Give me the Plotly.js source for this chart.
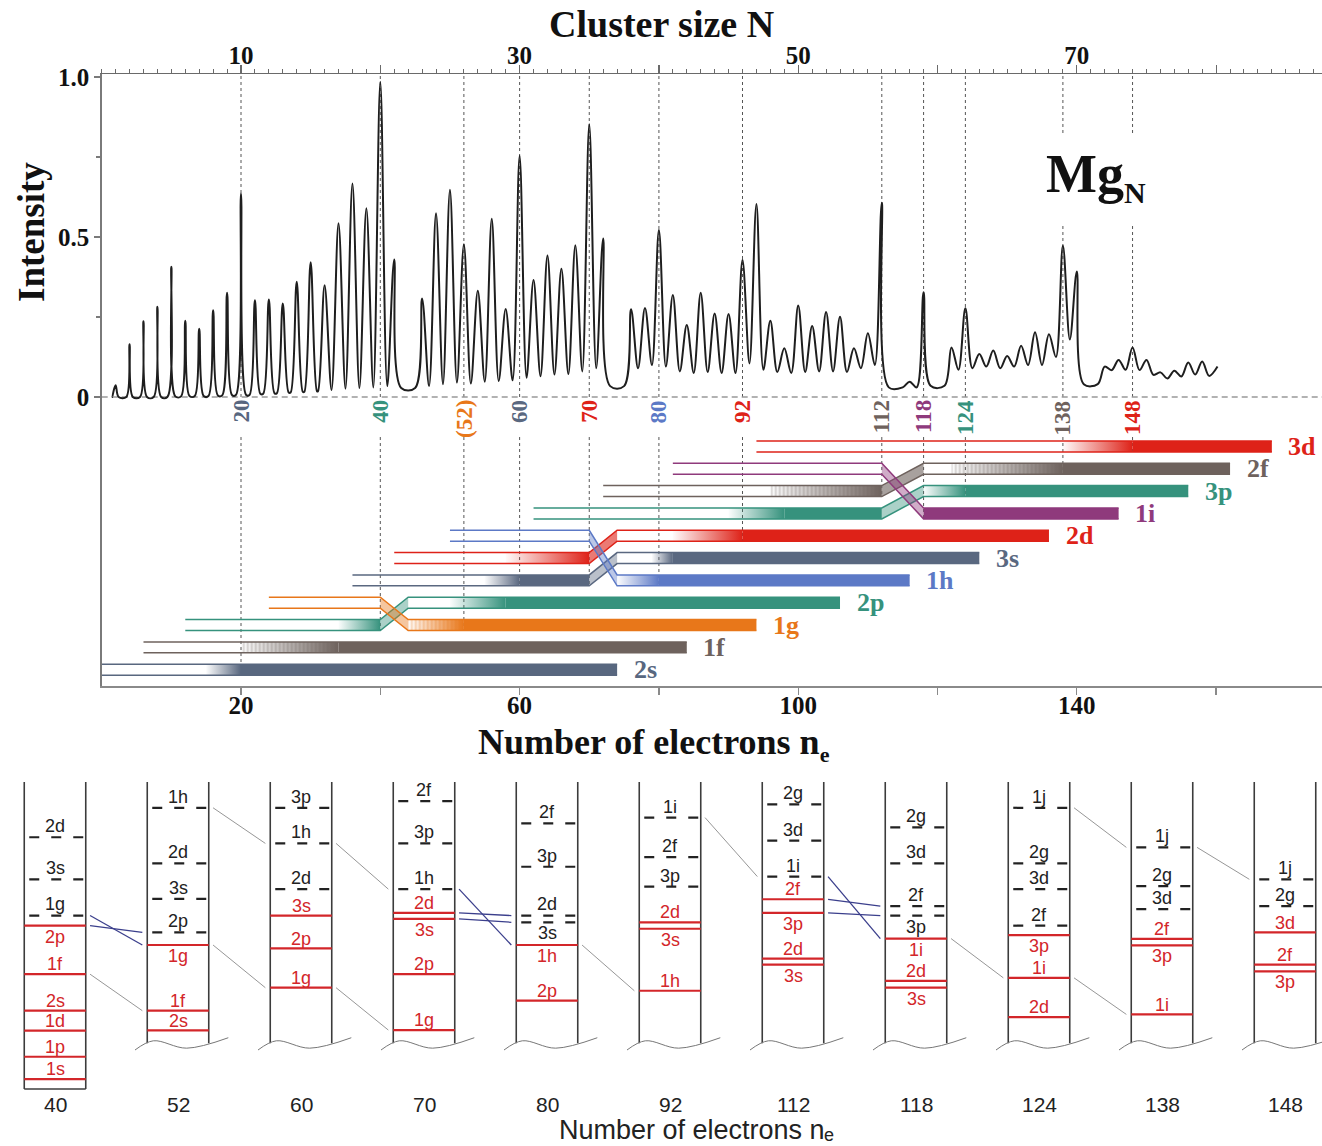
<!DOCTYPE html>
<html>
<head>
<meta charset="utf-8">
<title>Mg_N mass spectrum and electronic shell structure</title>
<script src="https://cdn.plot.ly/plotly-3.0.1.min.js"></script>
<style>
  html, body { margin: 0; padding: 0; background: #ffffff; }
  #chart { width: 1322px; height: 1146px; }
</style>
</head>
<body>
<div id="chart"></div>
<script>
// ---------------- Mass spectrum of Mg_N clusters ----------------
const clusterN = [1,2,3,4,5,6,7,8,9,10,11,12,13,14,15,16,17,18,19,20,21,
  23,24,25,26,27,28,29,30,31,32,33,34,35,36,
  38,39,40,41,42,43,44,45,46,47,48,49,50,51,52,53,54,55,56,
  58,59,61,62,63,64,65,66,67,68,69,70,72,73,74,75,76,77,78,79];
const peakIntensity = [0.037,0.165,0.237,0.282,0.407,0.238,0.213,0.271,0.326,0.636,
  0.302,0.305,0.292,0.360,0.421,0.349,0.543,0.667,0.590,0.985,0.430,
  0.308,0.574,0.648,0.477,0.332,0.557,0.275,0.754,0.366,0.442,0.401,0.474,0.852,0.495,
  0.274,0.278,0.522,0.319,0.225,0.326,0.261,0.259,0.428,0.603,0.238,0.152,0.286,0.222,0.266,0.251,0.152,0.199,0.607,
  0.048,0.327,0.155,0.277,0.134,0.145,0.128,0.160,0.202,0.196,0.473,0.392,
  0.095,0.116,0.155,0.116,0.077,0.082,0.108,0.111];
// level of the trough that follows each peak
const troughIntensity = [0,0,0,0,0.002,0.003,0.003,0.005,0.006,0.006,
  0.010,0.012,0.014,0.016,0.018,0.022,0.026,0.028,0.030,0.034,0.028,
  0.034,0.040,0.045,0.042,0.048,0.050,0.052,0.060,0.065,0.070,0.072,0.080,0.090,0.034,
  0.090,0.100,0.095,0.080,0.075,0.078,0.075,0.075,0.105,0.085,0.078,0.075,0.078,0.080,0.080,0.078,0.090,0.100,0.030,
  0.030,0.035,0.085,0.090,0.095,0.090,0.095,0.100,0.100,0.125,0.180,0.040,
  0.084,0.085,0.084,0.069,0.058,0.064,0.070,0.066];
const spectrumStart = [0.8, 0];
const spectrumEnd = [80.1, 0.095];

// ---------------- Shell closings (number of electrons) ----------------
const magicNumbers = [20, 40, 52, 60, 70, 80, 92, 112, 118, 124, 138, 148];
const magicLabels  = ['20','40','(52)','60','70','80','92','112','118','124','138','148'];
const magicShell   = ['2s','2p','1g','3s','2d','1h','2d','2f','1i','3p','2f','3d'];

// ---------------- Shell filling diagram ----------------
const shellNames   = ['2s','1f','2p','1g','3s','2d','1h','3p','2f','1i','3d'];
const shellPathNe  = [[0,74],[6,84],[12,40,44,106],[24,40,44,94],[36,70,74,126],[42,70,74,136],
                      [50,70,74,116],[62,112,118,156],[72,112,118,162],[82,112,118,146],[94,168]];
const shellPathRow = [[0,0],[1,1],[2,2,3,3],[3,3,2,2],[4,4,5,5],[5,5,6,6],
                      [6,6,4,4],[7,7,8,8],[8,8,9,9],[9,9,7,7],[10,10]];
const shellStages  = [
  [[15,20,'filling'],[20,74,'filled']],
  [[20,34,'filling'],[34,84,'filled']],
  [[34,40,'filling'],[40,44,'crossing'],[50,58,'filling'],[58,106,'filled']],
  [[40,44,'crossing'],[44,52,'filling'],[52,94,'filled']],
  [[55,60,'filling'],[60,70,'filled'],[70,74,'crossing'],[79,82,'filling'],[82,126,'filled']],
  [[58,70,'filling'],[70,74,'crossing'],[82,92,'filling'],[92,136,'filled']],
  [[70,74,'crossing'],[74,80,'filling'],[80,116,'filled']],
  [[90,98,'filling'],[98,112,'filled'],[112,118,'crossing'],[118,124,'filling'],[124,156,'filled']],
  [[96,112,'filling'],[112,118,'crossing'],[122,138,'filling'],[138,162,'filled']],
  [[112,118,'crossing'],[118,146,'filled']],
  [[138,148,'filling'],[148,168,'filled']]
];

// ---------------- Level schemes at the shell closings ----------------
const columnNe = [40, 52, 60, 70, 80, 92, 112, 118, 124, 138, 148];
const occupiedNames = [['1s','1p','1d','2s','1f','2p'],['2s','1f','1g'],['1g','2p','3s'],['1g','2p','3s','2d'],
  ['2p','1h'],['1h','3s','2d'],['3s','2d','3p','2f'],['3s','2d','1i'],['2d','1i','3p'],['1i','3p','2f'],['3p','2f','3d']];
const occupiedEnergy = [[3.2,10.5,19.0,25.5,37.4,53.2],[19.1,25.5,46.9],[33.0,45.8,56.5],[19.2,37.4,55.4,57.4],
  [28.8,46.9],[32.0,52.2,54.3],[40.5,42.5,57.4,61.8],[33.0,35.2,49.0],[23.4,36.2,50.1],[24.3,46.8,48.9],[38.3,40.5,51.0]];
const emptyNames = [['1g','3s','2d'],['2p','3s','2d','1h'],['2d','1h','3p'],['1h','3p','2f'],['3s','2d','3p','2f'],
  ['3p','2f','1i'],['1i','3d','2g'],['3p','2f','3d','2g'],['2f','3d','2g','1j'],['3d','2g','1j'],['2g','1j']];
const emptyEnergy = [[56.5,68.3,82.0],[51.0,61.9,73.5,91.6],[65.1,80.0,91.6],[65.1,80.0,93.8],[54.3,56.5,72.4,86.5],
  [65.9,75.5,88.4],[69.2,80.9,92.7],[56.5,59.6,73.5,85.2],[53.2,65.1,73.5,91.6],[58.6,66.1,78.7],[59.6,68.3]];
// a level followed from one scheme to the next
const trackedFrom  = [0,1,1,2,2,4,5,7,8,8,9];
const trackedLevel = ['1f','1h','1g','1h','1g','1h','1i','1i','1j','1i','1j'];
const crossingFrom  = [0,0,3,3,3,6,6,6];
const crossingLevel = ['1g','2p','1h','2d','3s','1i','2f','3p'];

// ---------------- Styles ----------------
const shellColor = {'2s':'#58677f','1f':'#6e625d','2p':'#36927d','1g':'#e8771a','3s':'#5a6880',
  '2d':'#de2218','1h':'#5c79c6','3p':'#36927d','2f':'#6e625d','1i':'#8f3a7c','3d':'#de2218'};
const hatchedShells = ['1f','1g','2f'];
const serif = 'Liberation Serif, Times New Roman, serif';
const sans = 'Liberation Sans, Arial, Helvetica, sans-serif';
const W = 1322, Hpx = 1146;
const P = py => 1 - py / Hpx;            // paper fraction for a pixel row
const HALF = 0.246;                      // half thickness of a shell ribbon (row units)
const LEVEL_RED = '#d3262a', LEVEL_DARK = '#222222';

function rgba(hex, a) {
  const n = parseInt(hex.slice(1), 16);
  return 'rgba(' + ((n >> 16) & 255) + ',' + ((n >> 8) & 255) + ',' + (n & 255) + ',' + a + ')';
}
function rowAt(ne, path, rws) {
  if (ne <= path[0]) return rws[0];
  for (let i = 1; i < path.length; i++) {
    if (ne <= path[i]) {
      const t = (ne - path[i - 1]) / (path[i] - path[i - 1]);
      return rws[i - 1] + t * (rws[i] - rws[i - 1]);
    }
  }
  return rws[rws.length - 1];
}
function band(a, b, path, rws) {
  const xs = [a];
  path.forEach(v => { if (v > a && v < b) xs.push(v); });
  xs.push(b);
  const top = xs.map(x => rowAt(x, path, rws) + HALF);
  const bot = xs.map(x => rowAt(x, path, rws) - HALF);
  const rx = xs.slice().reverse(), rb = bot.slice().reverse();
  return { x: xs.concat(rx, [xs[0]]), y: top.concat(rb, [top[0]]) };
}

const traces = [];
const annotations = [];

// ---- guide lines at the shell closings ----
const gapLo = 0.54, gapHi = 0.825;     // room for the Mg_N label
const topGX = [], topGY = [], lowGX = [], lowGY = [];
magicNumbers.forEach((m, i) => {
  if (m > 134 && m < 152) {
    topGX.push(m, m, null, m, m, null); topGY.push(0, gapLo, null, gapHi, 1.01, null);
  } else {
    topGX.push(m, m, null); topGY.push(0, 1.01, null);
  }
  const k = shellNames.indexOf(magicShell[i]);
  let r = rowAt(m, shellPathNe[k], shellPathRow[k]);
  if (m === 40) r = Math.min(r, 2);
  if (m === 70) r = Math.min(r, 4);
  lowGX.push(m, m, null); lowGY.push(10.42, r - HALF, null);
});
traces.push({ type:'scatter', mode:'lines', x: topGX, y: topGY, xaxis:'x', yaxis:'y',
  line:{ color:'#555', width:1, dash:'3px,3px' }, hoverinfo:'skip', showlegend:false });
traces.push({ type:'scatter', mode:'lines', x: lowGX, y: lowGY, xaxis:'x', yaxis:'y2',
  line:{ color:'#555', width:1, dash:'3px,3px' }, hoverinfo:'skip', showlegend:false });

// zero level of the spectrum
traces.push({ type:'scatter', mode:'lines', x:[0, 175.2], y:[0, 0], xaxis:'x', yaxis:'y',
  line:{ color:'#999', width:1.4, dash:'6px,4px' }, hoverinfo:'skip', showlegend:false });

// ---- spectrum ----
const halfWidth = n => Math.min(0.5, 0.2 + 0.017 * n);
const specX = [spectrumStart[0], clusterN[0] - halfWidth(clusterN[0])];
const specY = [spectrumStart[1], 0];
clusterN.forEach((n, i) => {
  specX.push(n); specY.push(peakIntensity[i]);
  const v = troughIntensity[i];
  const a = n + halfWidth(n);
  if (i === clusterN.length - 1) { specX.push(a); specY.push(v); return; }
  const next = clusterN[i + 1];
  const b = next - halfWidth(next);
  if (b - a > 0.05) { specX.push(a, b); specY.push(v, v); }
  else { specX.push((n + next) / 2); specY.push(v); }
});
specX.push(spectrumEnd[0]); specY.push(spectrumEnd[1]);
traces.push({ type:'scatter', mode:'lines', x: specX, y: specY, xaxis:'x2', yaxis:'y',
  line:{ color:'#1e1e1e', width:2, shape:'spline', smoothing:1 }, hoverinfo:'skip', showlegend:false });

// ---- shell ribbons ----
shellNames.forEach((name, k) => {
  const c = shellColor[name];
  const path = shellPathNe[k], rws = shellPathRow[k];
  shellStages[k].forEach(([a, b, stage]) => {
    const poly = band(a, b, path, rws);
    const t = { type:'scatter', mode:'lines', x: poly.x, y: poly.y, xaxis:'x', yaxis:'y2',
      fill:'toself', line:{ width:0, color:c }, hoverinfo:'skip', showlegend:false };
    if (stage === 'filled') t.fillcolor = c;
    else if (stage === 'crossing') t.fillcolor = rgba(c, name === '2d' || name === '2f' ? 0.6 : 0.42);
    else t.fillgradient = { type:'horizontal', start:a, stop:b,
      colorscale:[[0, rgba(c, 0.02)], [1, rgba(c, 1)]] };
    traces.push(t);
    if (stage === 'filling' && hatchedShells.includes(name)) {
      traces.push({ type:'scatter', mode:'lines', x: poly.x, y: poly.y, xaxis:'x', yaxis:'y2',
        fill:'toself', fillcolor:'rgba(0,0,0,0)', line:{ width:0, color:c },
        fillpattern:{ shape:'|', size:4, solidity:0.3, fgcolor: rgba(c, 0.35), bgcolor:'rgba(0,0,0,0)' },
        hoverinfo:'skip', showlegend:false });
    }
  });
  const ox = path.concat([null], path);
  const oy = rws.map(r => r + HALF).concat([null], rws.map(r => r - HALF));
  traces.push({ type:'scatter', mode:'lines', x: ox, y: oy, xaxis:'x', yaxis:'y2',
    line:{ color:c, width:1.5 }, hoverinfo:'skip', showlegend:false });
  const end = path[path.length - 1];
  annotations.push({ xref:'x', yref:'y2', x: end + 2.1, y: rws[rws.length - 1], xanchor:'left', yanchor:'middle',
    text:'<b>' + name + '</b>', showarrow:false, font:{ family: serif, size:26, color:c } });
});

// labels of the shell closings
magicNumbers.forEach((m, i) => {
  annotations.push({ xref:'x', yref:'paper', x: m, y: P(398), xanchor:'center', yanchor:'top', textangle:-90,
    text:'<b>' + magicLabels[i] + '</b>', showarrow:false,
    font:{ family: serif, size:23, color: shellColor[magicShell[i]] } });
});

// ---- level schemes ----
const CH = 0.25;                 // half width of a scheme column (column units)
const colX = [], colY = [];
const redX = [], redY = [], dashX = [], dashY = [];
const waveX = [], waveY = [];
const waveDx = [-43, -24.7, 8.7, 50.3].map(d => d / 123);
const waveE = [12.7, 15.7, 13.3, 16.7];
const energyOf = [];
columnNe.forEach((ne, k) => {
  const bottom = k === 0 ? 0 : 14.9;
  colX.push(k - CH, k - CH, null, k + CH, k + CH, null);
  colY.push(bottom, 100, null, bottom, 100, null);
  if (k === 0) { colX.push(k - CH, k + CH, null); colY.push(0, 0, null); }
  else {
    waveDx.forEach((d, j) => { waveX.push(k + d); waveY.push(waveE[j]); });
    waveX.push(null); waveY.push(null);
  }
  const lv = {};
  const all = [];
  occupiedNames[k].forEach((n, j) => { lv[n] = occupiedEnergy[k][j]; all.push({ n, e: occupiedEnergy[k][j], occ:true });
    redX.push(k - CH, k + CH, null); redY.push(occupiedEnergy[k][j], occupiedEnergy[k][j], null); });
  emptyNames[k].forEach((n, j) => { lv[n] = emptyEnergy[k][j]; all.push({ n, e: emptyEnergy[k][j], occ:false });
    dashX.push(k - CH + 5 / 123, k + CH - 2 / 123, null); dashY.push(emptyEnergy[k][j], emptyEnergy[k][j], null); });
  energyOf.push(lv);
  all.sort((p, q) => q.e - p.e);
  let prev = null;
  all.forEach(L => {
    const gap = prev ? prev.e - L.e : Infinity;
    let below;
    if (!L.occ) below = gap < 3.5;
    else below = gap < 5 || (prev && prev.below && gap < 10);
    L.below = below;
    const y = below ? L.e - 3.6 : L.e + (L.occ ? 3.2 : 3.6);
    annotations.push({ xref:'x3', yref:'y3', x: k, y: y, xanchor:'center', yanchor:'middle', showarrow:false,
      text: L.n, font:{ family: sans, size:18, color: L.occ ? LEVEL_RED : LEVEL_DARK } });
    prev = L;
  });
  annotations.push({ xref:'x3', yref:'y3', x: k, y: -5.0, xanchor:'center', yanchor:'middle', showarrow:false,
    text: String(ne), font:{ family: sans, size:21, color:'#222' } });
});
traces.push({ type:'scatter', mode:'lines', x: colX, y: colY, xaxis:'x3', yaxis:'y3',
  line:{ color:'#3c3c3c', width:1.6 }, hoverinfo:'skip', showlegend:false });
traces.push({ type:'scatter', mode:'lines', x: waveX, y: waveY, xaxis:'x3', yaxis:'y3',
  line:{ color:'#777', width:1, shape:'spline' }, hoverinfo:'skip', showlegend:false });

const gX = [], gY = [], bX = [], bY = [];
const link = (from, name, xs, ys) => {
  xs.push(from + 0.285, from + 1 - 0.29, null);
  ys.push(energyOf[from][name], energyOf[from + 1][name], null);
};
trackedFrom.forEach((f, i) => link(f, trackedLevel[i], gX, gY));
crossingFrom.forEach((f, i) => link(f, crossingLevel[i], bX, bY));
traces.push({ type:'scatter', mode:'lines', x: gX, y: gY, xaxis:'x3', yaxis:'y3',
  line:{ color:'#8a8a8a', width:0.9 }, hoverinfo:'skip', showlegend:false });
traces.push({ type:'scatter', mode:'lines', x: bX, y: bY, xaxis:'x3', yaxis:'y3',
  line:{ color:'#3b3f8c', width:1.3 }, hoverinfo:'skip', showlegend:false });
traces.push({ type:'scatter', mode:'lines', x: redX, y: redY, xaxis:'x3', yaxis:'y3',
  line:{ color: LEVEL_RED, width:2.2 }, hoverinfo:'skip', showlegend:false });
traces.push({ type:'scatter', mode:'lines', x: dashX, y: dashY, xaxis:'x3', yaxis:'y3',
  line:{ color: LEVEL_DARK, width:2.2, dash:'10px,12px' }, hoverinfo:'skip', showlegend:false });

// ---- titles ----
annotations.push({ xref:'paper', yref:'paper', x: 661 / W, y: P(24), xanchor:'center', yanchor:'middle', showarrow:false,
  text:'<b>Cluster size N</b>', font:{ family: serif, size:38, color:'#111' } });
annotations.push({ xref:'paper', yref:'paper', x: 31 / W, y: P(232), xanchor:'center', yanchor:'middle', showarrow:false,
  textangle:-90, text:'<b>Intensity</b>', font:{ family: serif, size:37, color:'#111' } });
annotations.push({ xref:'paper', yref:'paper', x: 654 / W, y: P(744), xanchor:'center', yanchor:'middle', showarrow:false,
  text:'<b>Number of electrons n<sub><span style="font-size:22px">e</span></sub></b>', font:{ family: serif, size:36, color:'#111' } });
annotations.push({ xref:'x2', yref:'y', x: 71.4, y: 0.69, xanchor:'center', yanchor:'middle', showarrow:false,
  text:'<b>Mg<sub><span style="font-size:30px">N</span></sub></b>', font:{ family: serif, size:54, color:'#111' } });
// bottom title: main text and its subscript placed side by side
annotations.push({ xref:'paper', yref:'paper', x: 826 / W, y: P(1146), xanchor:'right', yanchor:'bottom', showarrow:false,
  borderpad:0, text:'Number of electrons n', font:{ family: sans, size:27, color:'#222' } });
annotations.push({ xref:'paper', yref:'paper', x: 823 / W, y: P(1146), xanchor:'left', yanchor:'bottom', showarrow:false,
  borderpad:0, text:'e', font:{ family: sans, size:18, color:'#222' } });

// ---- layout ----
const xLeft = 101.7 / W;
const boldTicks = a => a.map(s => s === '' ? ' ' : '<b>' + s + '</b>');
const layout = {
  width: W, height: Hpx,
  margin:{ l:0, r:0, t:0, b:0, autoexpand:false },
  paper_bgcolor:'#ffffff', plot_bgcolor:'rgba(0,0,0,0)',
  showlegend:false,
  xaxis:{ domain:[xLeft, 1], range:[0, 175.2], anchor:'y2', side:'bottom',
    showline:true, linecolor:'#8a8a8a', linewidth:1.8, mirror:false,
    ticks:'outside', ticklen:7, tickwidth:1.3, tickcolor:'#8a8a8a',
    tickmode:'array', tickvals:[20,60,100,140],
    ticktext: boldTicks(['20','60','100','140']),
    minor:{ ticks:'outside', ticklen:7, tickwidth:1.3, tickcolor:'#8a8a8a', tickvals:[40,80,120,160] },
    tickfont:{ family: serif, size:25, color:'#111' }, ticklabelstandoff:-11,
    showgrid:false, zeroline:false, fixedrange:true },
  xaxis2:{ overlaying:'x', range:[0, 87.6], anchor:'y', side:'top',
    showline:true, linecolor:'#6a6a6a', linewidth:1.5,
    ticks:'outside', ticklen:8, tickwidth:1.2, tickcolor:'#6a6a6a',
    tickmode:'array', tickvals:[10,20,30,40,50,60,70,80],
    ticktext: boldTicks(['10','','30','','50','','70','']),
    tickfont:{ family: serif, size:25, color:'#111' }, ticklabelstandoff:-9,
    minor:{ ticks:'outside', ticklen:4, tickwidth:1, tickcolor:'#6a6a6a', tickmode:'linear', tick0:0, dtick:1 },
    showgrid:false, zeroline:false, fixedrange:true },
  yaxis:{ domain:[P(400), P(74)], range:[-3 / 320, 1 + 3 / 320], anchor:'x',
    showline:true, linecolor:'#7a7a7a', linewidth:1.5,
    ticks:'outside', ticklen:6, tickwidth:1.2, tickcolor:'#7a7a7a',
    tickmode:'array', tickvals:[0, 0.5, 1], ticktext: boldTicks(['0','0.5','1.0']),
    tickfont:{ family: serif, size:25, color:'#111' },
    minor:{ ticks:'outside', ticklen:4, tickcolor:'#7a7a7a', tickvals:[0.25, 0.75] },
    showgrid:false, zeroline:false, fixedrange:true },
  yaxis2:{ domain:[P(686), P(400)], range:[(669.7 - 686) / 22.33, (669.7 - 400) / 22.33], anchor:'x',
    showline:true, linecolor:'#7a7a7a', linewidth:1.5, ticks:'', showticklabels:false,
    showgrid:false, zeroline:false, fixedrange:true },
  xaxis3:{ domain:[0, 1], range:[-55 / 123, (W - 55) / 123], anchor:'y3', visible:false, fixedrange:true },
  yaxis3:{ domain:[0, P(770)], range:[-(Hpx - 1089) / 3.07, (1089 - 770) / 3.07], anchor:'x3', visible:false, fixedrange:true },
  annotations: annotations
};

Plotly.newPlot('chart', traces, layout, { staticPlot:true, displayModeBar:false });
</script>
</body>
</html>
